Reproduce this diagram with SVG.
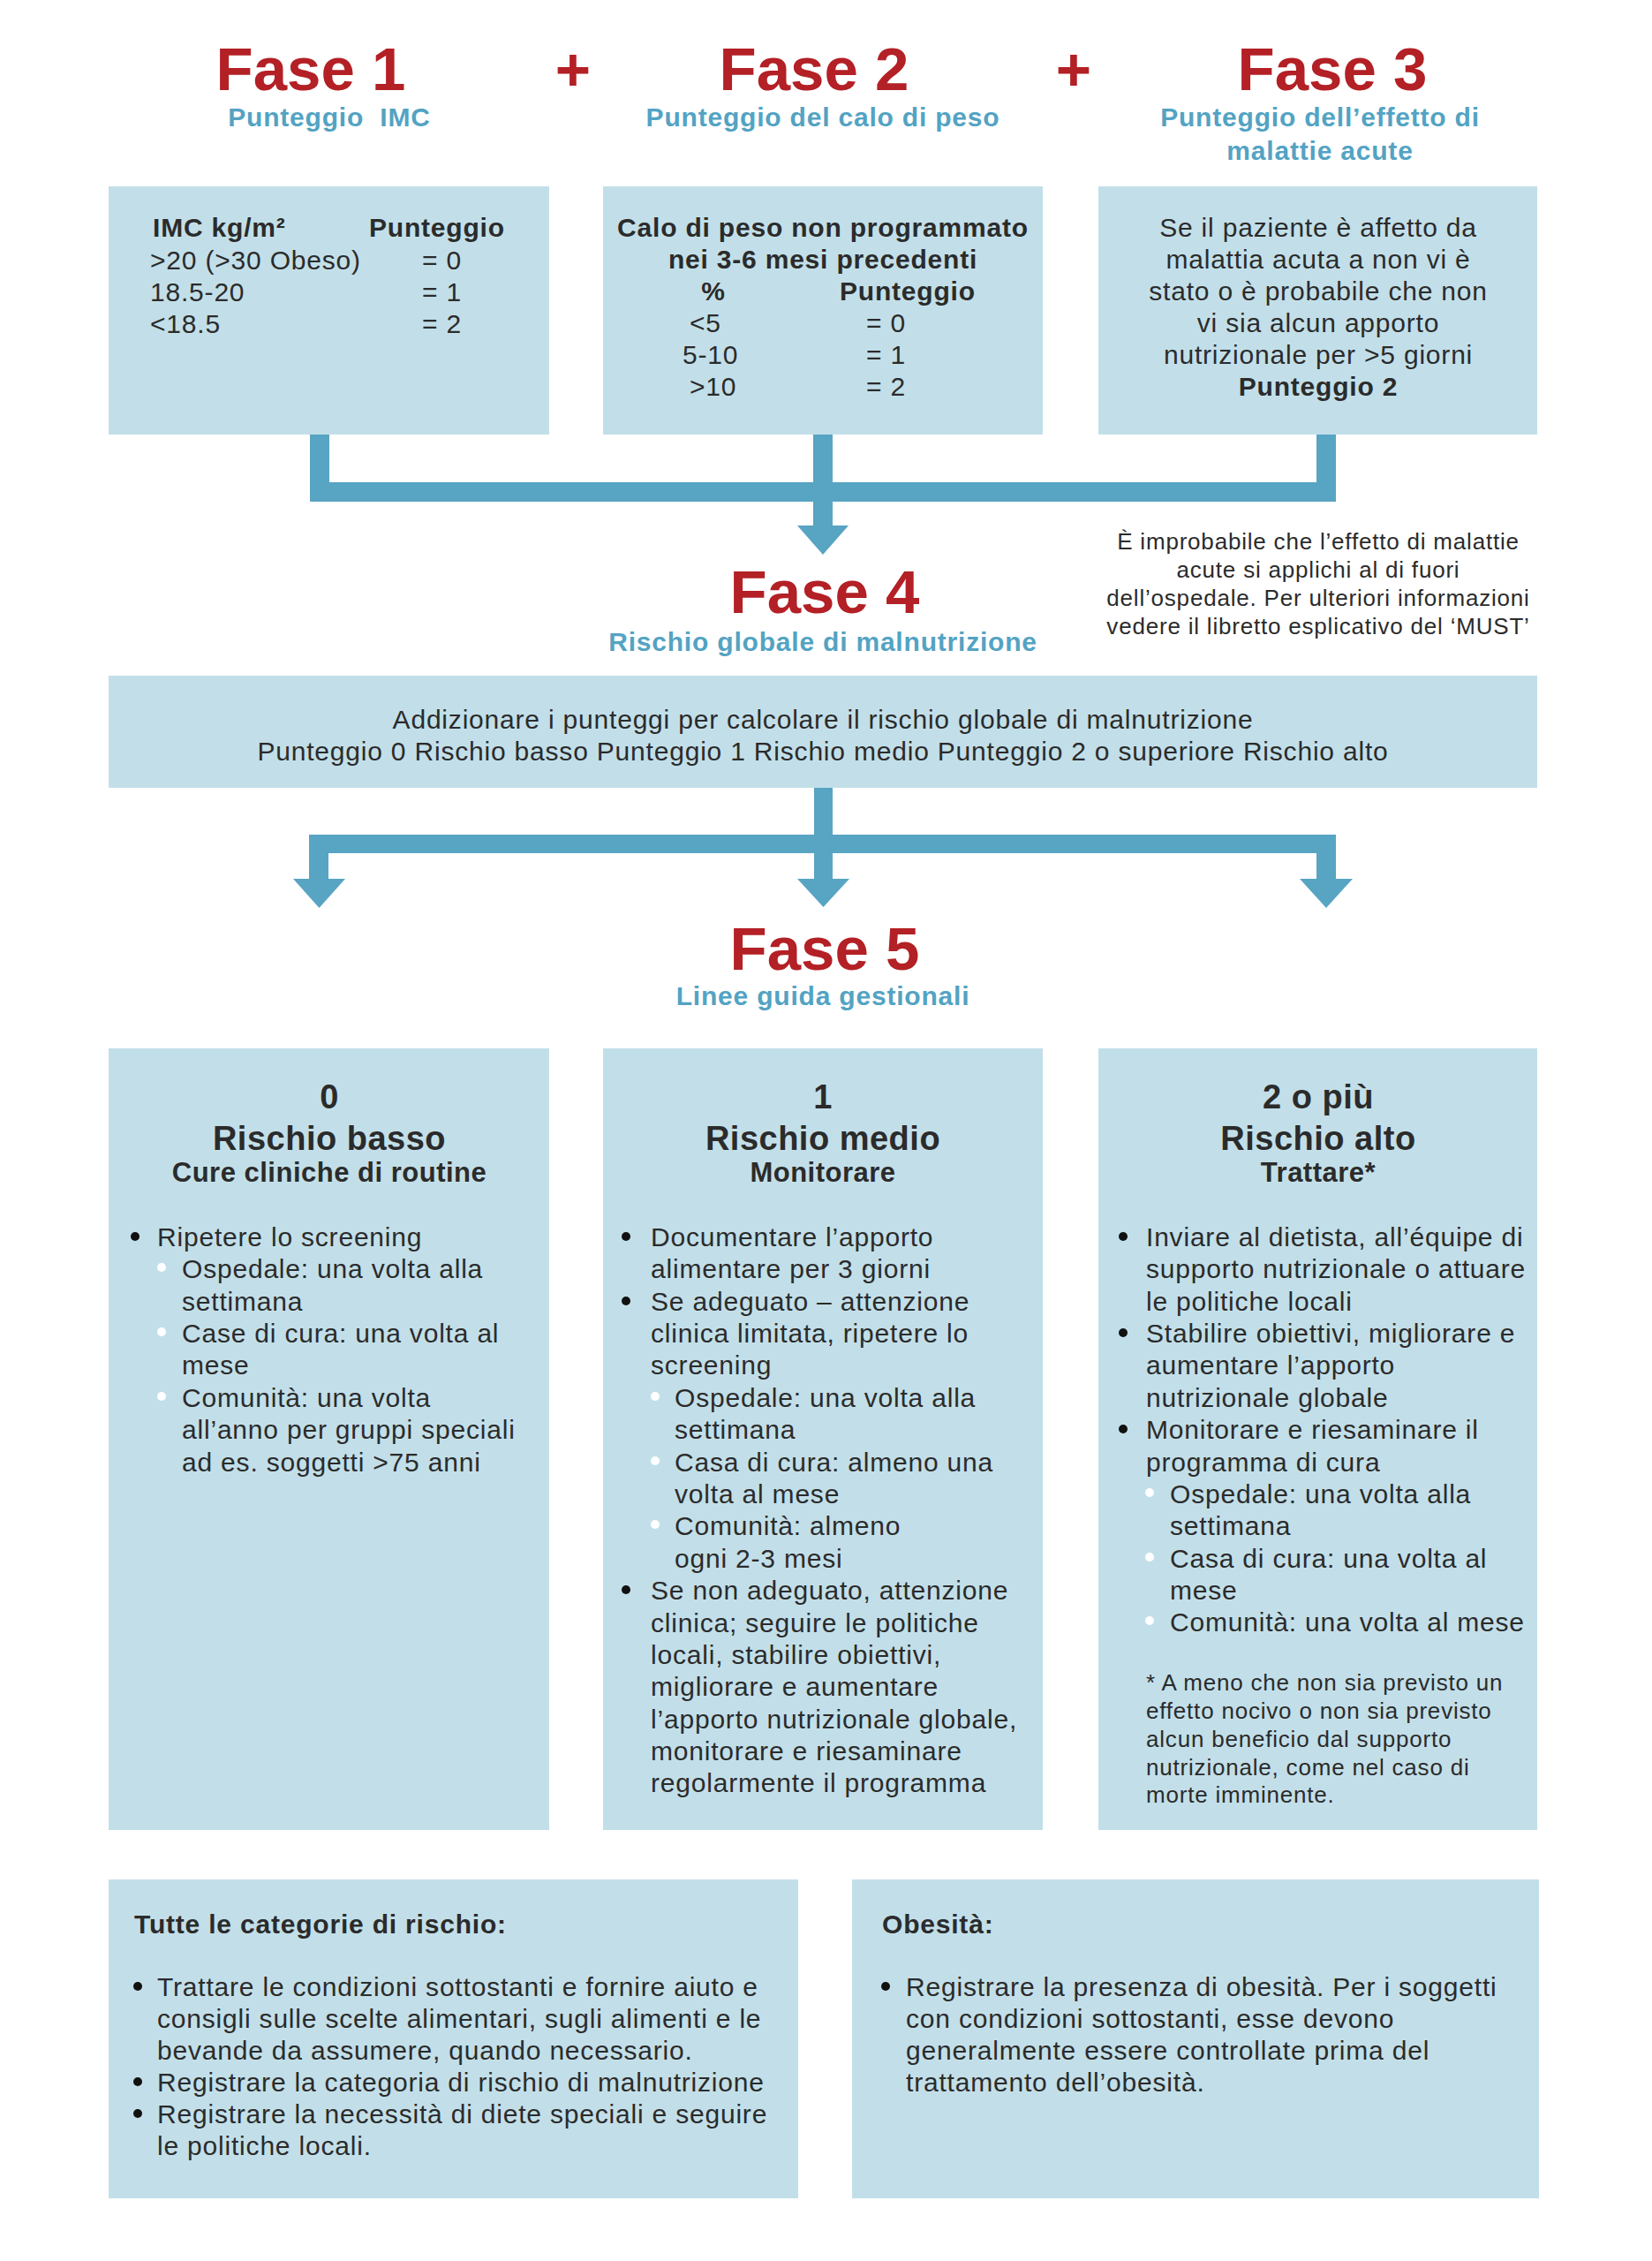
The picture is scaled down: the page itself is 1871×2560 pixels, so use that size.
<svg xmlns="http://www.w3.org/2000/svg" width="1871" height="2560" viewBox="0 0 1871 2560">
<style>
text{font-family:"Liberation Sans",Arial,Helvetica,sans-serif;fill:#2b2b2b;font-size:30px;letter-spacing:0.8px}
.b{font-weight:bold}
.c{text-anchor:middle}
.box{fill:#c2dfe9}
.fase{font-weight:bold;font-size:69px;fill:#b32025;text-anchor:middle;letter-spacing:0}
.sub{font-weight:bold;fill:#53a3c3;text-anchor:middle}
.note{font-size:26px}
.h1{font-weight:bold;font-size:38px;text-anchor:middle;letter-spacing:0.5px}
.h2{font-weight:bold;font-size:31px;text-anchor:middle;letter-spacing:0.5px}
.conn{fill:#58a4c3}
.bk{fill:#111}
.wh{fill:#ffffff}
</style>
<rect width="1871" height="2560" fill="#ffffff"/>

<g id="titles">
<text class="fase" x="352" y="102">Fase 1</text>
<text class="fase" x="649" y="102">+</text>
<text class="fase" x="922" y="102">Fase 2</text>
<text class="fase" x="1216" y="102">+</text>
<text class="fase" x="1509" y="102">Fase 3</text>
<text class="sub" x="373" y="143">Punteggio&#160; IMC</text>
<text class="sub" x="932" y="143">Punteggio del calo di peso</text>
<text class="sub" x="1495" y="143">Punteggio dell’effetto di</text>
<text class="sub" x="1495" y="181">malattie acute</text>
</g>

<g id="connectors">
<rect class="conn" x="351" y="490" width="22" height="78"/>
<rect class="conn" x="921" y="490" width="22" height="106"/>
<rect class="conn" x="1491" y="490" width="22" height="78"/>
<rect class="conn" x="351" y="546" width="1162" height="22"/>
<polygon class="conn" points="903,595 961,595 932,628"/>
<rect class="conn" x="922" y="890" width="21" height="106"/>
<rect class="conn" x="350" y="945" width="1163" height="21"/>
<rect class="conn" x="350" y="945" width="22" height="51"/>
<rect class="conn" x="1491" y="945" width="22" height="51"/>
<polygon class="conn" points="332,995 391,995 361.5,1028"/>
<polygon class="conn" points="903,995 962,995 932.5,1027"/>
<polygon class="conn" points="1472,995 1532,995 1502,1028"/>
</g>

<g id="fase1">
<rect class="box" x="123" y="211" width="499" height="281"/>
<text class="b" x="173" y="268">IMC kg/m²</text>
<text class="b" x="418" y="268">Punteggio</text>
<text x="170" y="305">&gt;20 (&gt;30 Obeso)</text>
<text x="478" y="305">= 0</text>
<text x="170" y="341">18.5-20</text>
<text x="478" y="341">= 1</text>
<text x="170" y="377">&lt;18.5</text>
<text x="478" y="377">= 2</text>
</g>

<g id="fase2">
<rect class="box" x="683" y="211" width="498" height="281"/>
<text class="b c" x="932" y="268">Calo di peso non programmato</text>
<text class="b c" x="932" y="304">nei 3-6 mesi precedenti</text>
<text class="b c" x="808" y="340">%</text>
<text class="b" x="951" y="340">Punteggio</text>
<text x="781" y="376">&lt;5</text>
<text x="981" y="376">= 0</text>
<text x="773" y="412">5-10</text>
<text x="981" y="412">= 1</text>
<text x="781" y="448">&gt;10</text>
<text x="981" y="448">= 2</text>
</g>

<g id="fase3">
<rect class="box" x="1244" y="211" width="497" height="281"/>
<text class="c" x="1493" y="268">Se il paziente è affetto da</text>
<text class="c" x="1493" y="304">malattia acuta a non vi è</text>
<text class="c" x="1493" y="340">stato o è probabile che non</text>
<text class="c" x="1493" y="376">vi sia alcun apporto</text>
<text class="c" x="1493" y="412">nutrizionale per &gt;5 giorni</text>
<text class="b c" x="1493" y="448">Punteggio 2</text>
</g>

<g id="nota">
<text class="note c" x="1493" y="622">È improbabile che l’effetto di malattie</text>
<text class="note c" x="1493" y="654">acute si applichi al di fuori</text>
<text class="note c" x="1493" y="686">dell’ospedale. Per ulteriori informazioni</text>
<text class="note c" x="1493" y="718">vedere il libretto esplicativo del ‘MUST’</text>
</g>

<g id="fase4">
<text class="fase" x="934" y="694">Fase 4</text>
<text class="sub" x="932" y="737">Rischio globale di malnutrizione</text>
<rect class="box" x="123" y="765" width="1618" height="127"/>
<text class="c" x="932" y="825">Addizionare i punteggi per calcolare il rischio globale di malnutrizione</text>
<text class="c" x="932" y="861">Punteggio 0 Rischio basso Punteggio 1 Rischio medio Punteggio 2 o superiore Rischio alto</text>
</g>

<g id="fase5-titolo">
<text class="fase" x="934" y="1098">Fase 5</text>
<text class="sub" x="932" y="1138">Linee guida gestionali</text>
</g>

<g id="rischio-basso">
<rect class="box" x="123" y="1187" width="499" height="885"/>
<text class="h1" x="373" y="1255">0</text>
<text class="h1" x="373" y="1302">Rischio basso</text>
<text class="h2" x="373" y="1338">Cure cliniche di routine</text>
<circle class="bk" cx="153" cy="1400" r="5"/>
<text x="178" y="1411">Ripetere lo screening</text>
<circle class="wh" cx="183" cy="1435" r="5"/>
<text x="206" y="1447">Ospedale: una volta alla</text>
<text x="206" y="1484">settimana</text>
<circle class="wh" cx="183" cy="1508" r="5"/>
<text x="206" y="1520">Case di cura: una volta al</text>
<text x="206" y="1556">mese</text>
<circle class="wh" cx="183" cy="1581" r="5"/>
<text x="206" y="1593">Comunità: una volta</text>
<text x="206" y="1629">all’anno per gruppi speciali</text>
<text x="206" y="1666">ad es. soggetti &gt;75 anni</text>
</g>

<g id="rischio-medio">
<rect class="box" x="683" y="1187" width="498" height="885"/>
<text class="h1" x="932" y="1255">1</text>
<text class="h1" x="932" y="1302">Rischio medio</text>
<text class="h2" x="932" y="1338">Monitorare</text>
<circle class="bk" cx="709" cy="1400" r="5"/>
<text x="737" y="1411">Documentare l’apporto</text>
<text x="737" y="1447">alimentare per 3 giorni</text>
<circle class="bk" cx="709" cy="1473" r="5"/>
<text x="737" y="1484">Se adeguato – attenzione</text>
<text x="737" y="1520">clinica limitata, ripetere lo</text>
<text x="737" y="1556">screening</text>
<circle class="wh" cx="742" cy="1581" r="5"/>
<text x="764" y="1593">Ospedale: una volta alla</text>
<text x="764" y="1629">settimana</text>
<circle class="wh" cx="742" cy="1654" r="5"/>
<text x="764" y="1666">Casa di cura: almeno una</text>
<text x="764" y="1702">volta al mese</text>
<circle class="wh" cx="742" cy="1726" r="5"/>
<text x="764" y="1738">Comunità: almeno</text>
<text x="764" y="1775">ogni 2-3 mesi</text>
<circle class="bk" cx="709" cy="1800" r="5"/>
<text x="737" y="1811">Se non adeguato, attenzione</text>
<text x="737" y="1848">clinica; seguire le politiche</text>
<text x="737" y="1884">locali, stabilire obiettivi,</text>
<text x="737" y="1920">migliorare e aumentare</text>
<text x="737" y="1957">l’apporto nutrizionale globale,</text>
<text x="737" y="1993">monitorare e riesaminare</text>
<text x="737" y="2029">regolarmente il programma</text>
</g>

<g id="rischio-alto">
<rect class="box" x="1244" y="1187" width="497" height="885"/>
<text class="h1" x="1493" y="1255">2 o più</text>
<text class="h1" x="1493" y="1302">Rischio alto</text>
<text class="h2" x="1493" y="1338">Trattare*</text>
<circle class="bk" cx="1272" cy="1400" r="5"/>
<text x="1298" y="1411">Inviare al dietista, all’équipe di</text>
<text x="1298" y="1447">supporto nutrizionale o attuare</text>
<text x="1298" y="1484">le politiche locali</text>
<circle class="bk" cx="1272" cy="1509" r="5"/>
<text x="1298" y="1520">Stabilire obiettivi, migliorare e</text>
<text x="1298" y="1556">aumentare l’apporto</text>
<text x="1298" y="1593">nutrizionale globale</text>
<circle class="bk" cx="1272" cy="1618" r="5"/>
<text x="1298" y="1629">Monitorare e riesaminare il</text>
<text x="1298" y="1666">programma di cura</text>
<circle class="wh" cx="1302" cy="1690" r="5"/>
<text x="1325" y="1702">Ospedale: una volta alla</text>
<text x="1325" y="1738">settimana</text>
<circle class="wh" cx="1302" cy="1763" r="5"/>
<text x="1325" y="1775">Casa di cura: una volta al</text>
<text x="1325" y="1811">mese</text>
<circle class="wh" cx="1302" cy="1835" r="5"/>
<text x="1325" y="1847">Comunità: una volta al mese</text>
<text class="note" x="1298" y="1914">* A meno che non sia previsto un</text>
<text class="note" x="1298" y="1946">effetto nocivo o non sia previsto</text>
<text class="note" x="1298" y="1978">alcun beneficio dal supporto</text>
<text class="note" x="1298" y="2010">nutrizionale, come nel caso di</text>
<text class="note" x="1298" y="2041">morte imminente.</text>
</g>

<g id="tutte-categorie">
<rect class="box" x="123" y="2128" width="781" height="361"/>
<text class="b" x="152" y="2189">Tutte le categorie di rischio:</text>
<circle class="bk" cx="156" cy="2249" r="5"/>
<text x="178" y="2260">Trattare le condizioni sottostanti e fornire aiuto e</text>
<text x="178" y="2296">consigli sulle scelte alimentari, sugli alimenti e le</text>
<text x="178" y="2332">bevande da assumere, quando necessario.</text>
<circle class="bk" cx="156" cy="2357" r="5"/>
<text x="178" y="2368">Registrare la categoria di rischio di malnutrizione</text>
<circle class="bk" cx="156" cy="2393" r="5"/>
<text x="178" y="2404">Registrare la necessità di diete speciali e seguire</text>
<text x="178" y="2440">le politiche locali.</text>
</g>

<g id="obesita">
<rect class="box" x="965" y="2128" width="778" height="361"/>
<text class="b" x="999" y="2189">Obesità:</text>
<circle class="bk" cx="1003" cy="2249" r="5"/>
<text x="1026" y="2260">Registrare la presenza di obesità. Per i soggetti</text>
<text x="1026" y="2296">con condizioni sottostanti, esse devono</text>
<text x="1026" y="2332">generalmente essere controllate prima del</text>
<text x="1026" y="2368">trattamento dell’obesità.</text>
</g>
</svg>
